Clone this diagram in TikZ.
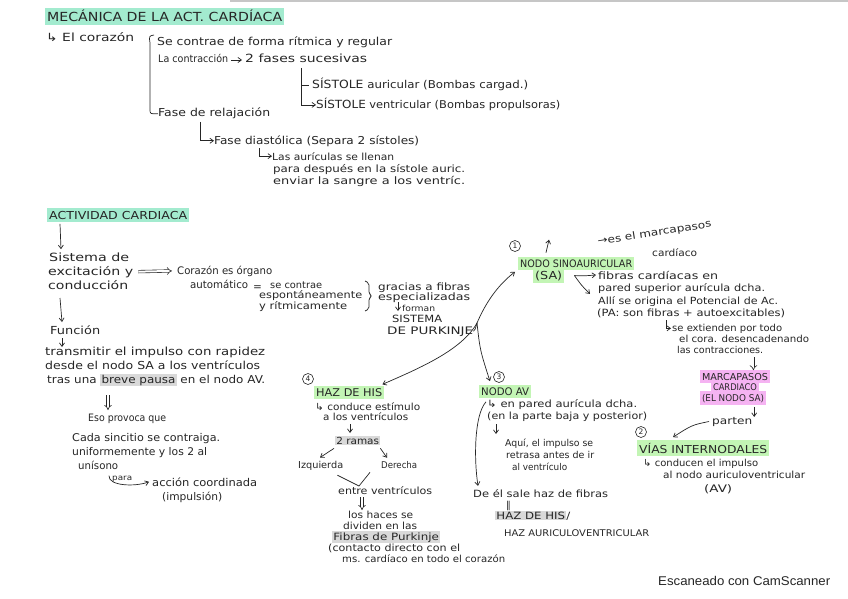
\documentclass[tikz,border=0pt]{standalone}
\usepackage{fontspec}
\usepackage{graphicx}
\usetikzlibrary{arrows.meta}
\newfontfamily\hwf{DejaVu Sans}
\newfontfamily\uif{Liberation Sans}
\definecolor{ink}{HTML}{262626}
\definecolor{mint}{HTML}{A3EBCF}
\definecolor{lgreen}{HTML}{C3F5B5}
\definecolor{lpink}{HTML}{F5B3F2}
\definecolor{hlgray}{HTML}{D9D9D9}
\newsavebox\fwbox
\newcommand{\fw}[2]{\sbox\fwbox{#2}\edef\fwr{\fpeval{#1/(\the\wd\fwbox)}}\edef\fwv{\fpeval{sqrt(sqrt(\fwr))}}\scalebox{\fwr}[\fwv]{\usebox\fwbox}}
\newcommand{\gbox}[1]{{\setlength{\fboxsep}{1pt}\colorbox{hlgray}{#1}}}
\begin{document}
\begin{tikzpicture}[x=1pt,y=-1pt,
 tx/.style={anchor=base west, inner sep=0pt, text=ink, font=\hwf\fontsize{10.5}{12}\selectfont},
 txs/.style={tx, font=\hwf\fontsize{9.5}{11}\selectfont},
 cp/.style={tx, font=\hwf\fontsize{10.5}{12}\selectfont},
 hl/.style={fill=#1, inner xsep=2pt, inner ysep=2.5pt},
 ln/.style={draw=ink, line width=0.7pt},
 ar/.style={ln, -{Straight Barb[length=3.5pt,width=5pt]}},
 dar/.style={draw=ink, line width=0.6pt, double, double distance=2pt, -{Implies}},
 num/.style={circle, draw=ink, line width=0.6pt, inner sep=0pt, minimum size=11pt, text=ink, font=\hwf\fontsize{7.5}{8}\selectfont},
]
\useasboundingbox (0,0) rectangle (848,599);
\fill[white] (0,0) rectangle (848,599);
\draw[gray!45, line width=2pt] (230,1.5) -- (848,1.5);

% ---------- MECANICA ----------
\node[cp, hl=mint, font=\hwf\fontsize{12}{14}\selectfont] (title) at (45,22) {\fw{235}{MECÁNICA DE LA ACT. CARDÍACA}};
\node[tx] (cor) at (46,42) {\fw{88}{↳ El corazón}};
\node[tx] (s1) at (157,46) {\fw{235}{Se contrae de forma rítmica y regular}};
\node[tx] (s2) at (158,63) {\fw{70}{La contracción}};
\node[tx] (s3) at (245,63) {\fw{122}{2 fases sucesivas}};
\draw[ar] ([shift={(3,-3)}]s2.base east) -- ([shift={(-3,-3)}]s3.base west);
\node[tx] (s4) at (312,89) {\fw{216}{{\fontsize{11}{12}\selectfont SÍSTOLE} auricular (Bombas cargad.)}};
\node[tx] (s5) at (316,109) {\fw{244}{{\fontsize{11}{12}\selectfont SÍSTOLE} ventricular (Bombas propulsoras)}};
\coordinate (fb) at (301,68);
\draw[ar] (fb) |- (s5.west);
\draw[ln] (fb |- s4.west) -- ([xshift=-3pt]s4.west);
\node[tx] (s6) at (158,117) {\fw{112}{Fase de relajación}};
\draw[ln] (154,35) .. controls (149,36) .. (150,43) -- (150,109) .. controls (150,114) .. (s6.west);
\node[tx] (s7) at (214,144) {\fw{205}{Fase diastólica (Separa 2 sístoles)}};
\draw[ar] ([shift={(42,5)}]s6.base west) |- (s7.west);
\node[txs] (s8) at (272,160) {\fw{122}{Las aurículas se llenan}};
\node[txs] (s9) at (273,172) {\fw{192}{para después en la sístole auric.}};
\node[txs] (s10) at (273,184) {\fw{192}{enviar la sangre a los ventríc.}};
\draw[ar] ([shift={(45,4)}]s7.base west) |- (s8.west);

% ---------- ACTIVIDAD CARDIACA ----------
\node[cp, hl=mint] (ac) at (47,219) {\fw{138}{ACTIVIDAD CARDIACA}};
\node[tx] (si1) at (49,261) {\fw{80}{Sistema de}};
\node[tx] (si2) at (48,275) {\fw{85}{excitación y}};
\node[tx] (si3) at (48,289) {\fw{80}{conducción}};
\draw[ar] ([shift={(13,2)}]ac.south west) -- ([shift={(12,-3)}]si1.north west);
\node[tx] (co1) at (177,274) {\fw{95}{Corazón es órgano}};
\node[tx] (co2) at (190,288) {\fw{58}{automático}};
\draw[dar] ([xshift=5pt]si2.east) -- ([xshift=-5pt]co1.west);
\node[tx] (eq) at (253,290) {=};
\node[txs] (sc1) at (270,288) {\fw{52}{se contrae}};
\node[txs] (sc2) at (259,298) {\fw{103}{espontáneamente}};
\node[txs] (sc3) at (259,309) {\fw{88}{y rítmicamente}};
\draw[ln, rounded corners=2pt] (365,281) -- (369,283) -- (369,294) -- (372,296) -- (369,298) -- (369,309) -- (365,311);
\node[txs] (gr1) at (378,290) {\fw{92}{gracias a fibras}};
\node[txs] (gr2) at (378,300) {\fw{92}{especializadas}};
\node[txs, font=\hwf\fontsize{8}{9}\selectfont] (fo) at (402,311) {\fw{33}{forman}};
\draw[ar] ([shift={(-4,-9)}]fo.base west) -- ([shift={(-4,0)}]fo.base west);
\node[cp, font=\hwf\fontsize{9.5}{11}\selectfont] (sp1) at (392,322) {\fw{50}{SISTEMA}};
\node[cp, font=\hwf\fontsize{9.5}{11}\selectfont] (sp2) at (387,334) {\fw{86}{DE PURKINJE}};

\node[tx] (fu) at (50,334) {\fw{50}{Función}};
\draw[ar] ([shift={(12,9)}]si3.base west) -- ([shift={(12,-12)}]fu.base west);
\coordinate (fud) at ([shift={(12,4)}]fu.base west);
\draw[ar] (fud) -- ++(0,9);
\node[tx] (tr1) at (45,355) {\fw{220}{transmitir el impulso con rapidez}};
\node[tx] (tr2) at (45,369) {\fw{215}{desde el nodo SA a los ventrículos}};
\node[tx] (tr3) at (47,383) {\fw{218}{tras una \gbox{breve pausa} en el nodo AV.}};
\node[tx] (ep) at (88,421) {\fw{78}{Eso provoca que}};
\coordinate (trd) at (108,395);
\coordinate (trd2) at (108,410);
\draw[dar] (trd) -- (trd2);
\node[tx] (cs1) at (72,441) {\fw{148}{Cada sincitio se contraiga.}};
\node[tx] (cs2) at (72,455) {\fw{135}{uniformemente y los 2 al}};
\node[tx] (cs3) at (78,469) {\fw{40}{unísono}};
\node[txs, font=\hwf\fontsize{7.5}{8}\selectfont] (pr) at (112,480) {\fw{20}{para}};
\node[tx] (ac1) at (152,486) {\fw{105}{acción coordinada}};
\node[tx] (ac2) at (162,500) {\fw{60}{(impulsión)}};
\draw[ar] ([shift={(-3,-3)}]pr.west) .. controls (108,486) and (135,487) .. ([xshift=-3pt]ac1.west);

% ---------- junction ----------
\coordinate (j) at (477,323);
\draw[ln] (sp2.east) .. controls (475,330) .. (j);

% ---------- NODO SA ----------
\node[num] (n1) at (515,246) {1};
\node[cp, hl=lgreen] (sa1) at (518,267) {\fw{112}{NODO SINOAURICULAR}};
\node[cp, hl=lgreen] (sa2) at (533,279) {\fw{27}{(SA)}};
\draw[ar] (j) .. controls (486,302) and (498,285) .. ([shift={(-3,2)}]sa1.south west);
\draw[ar] ([shift={(28,-4)}]sa1.north west) -- ++(3,-13);
\node[txs, rotate=9] (mp1) at (598,245) {\fw{115}{→es el marcapasos}};
\node[txs] (mp2) at (652,256) {\fw{45}{cardíaco}};
\coordinate (sa0) at ([xshift=10pt]sa2.east);
\node[txs] (fi1) at (598,279) {\fw{120}{fibras cardíacas en}};
\node[txs] (fi2) at (598,291) {\fw{167}{pared superior aurícula dcha.}};
\node[txs] (al1) at (598,304) {\fw{180}{Allí se origina el Potencial de Ac.}};
\node[txs] (al2) at (597,316) {\fw{188}{(PA: son fibras + autoexcitables)}};
\draw[ar] (sa0) .. controls (583,276) .. ([xshift=-2pt]fi1.west);
\draw[ar] (sa0) .. controls (582,286) .. ([shift={(-8,-2)}]al1.north west);
\node[txs] (ex1) at (672,331) {\fw{110}{se extienden por todo}};
\node[txs] (ex2) at (679,342) {\fw{130}{el cora. desencadenando}};
\node[txs] (ex3) at (677,353) {\fw{86}{las contracciones.}};
\draw[ar] ([shift={(69,4)}]al2.base west) |- ([xshift=-1pt]ex1.west);
\node[cp, hl=lpink, anchor=base, font=\hwf\fontsize{9.5}{11}\selectfont] (mc1) at (735,380) {\fw{66}{MARCAPASOS}};
\node[cp, hl=lpink, anchor=base, font=\hwf\fontsize{9.5}{11}\selectfont] (mc2) at (735,390) {\fw{44}{CARDIACO}};
\node[cp, hl=lpink, anchor=base, font=\hwf\fontsize{9.5}{11}\selectfont] (mc3) at (733,401) {\fw{62}{(EL NODO SA)}};
\coordinate (exd) at ([shift={(-10,4)}]ex3.south east);
\draw[dar] (exd) -- (exd |- mc1.north);
\coordinate (mcd) at ([shift={(-12,2)}]mc3.south east);
\draw[ar] (mcd) -- ++(0,10);
\node[txs] (pa) at (712,424) {\fw{40}{parten}};
\node[num] (n2) at (641,432) {2};
\node[cp, hl=lgreen] (vi) at (637,453) {\fw{128}{VÍAS INTERNODALES}};
\draw[ar] ([xshift=-3pt]pa.west) .. controls (692,425) .. ([shift={(36,-3)}]vi.north west);
\node[txs] (cd1) at (643,466) {\fw{115}{↳ conducen el impulso}};
\node[txs] (cd2) at (663,478) {\fw{142}{al nodo auriculoventricular}};
\node[txs] (cd3) at (704,492) {\fw{28}{(AV)}};

% ---------- NODO AV ----------
\node[num] (n3) at (499,377) {3};
\draw[ar] (j) .. controls (480,350) .. ([shift={(-5,0)}]n3.south west);
\node[cp, hl=lgreen] (av) at (479,395) {\fw{48}{NODO AV}};
\node[txs] (av1) at (487,407) {\fw{150}{↳ en pared aurícula dcha.}};
\node[txs] (av2) at (487,419) {\fw{160}{(en la parte baja y posterior)}};
\coordinate (avd) at ([shift={(9,5)}]av2.base west);
\draw[ar] (avd) -- ++(0,10);
\node[txs] (aq1) at (505,446) {\fw{88}{Aquí, el impulso se}};
\node[txs] (aq2) at (506,458) {\fw{88}{retrasa antes de ir}};
\node[txs] (aq3) at (512,470) {\fw{55}{al ventrículo}};
\node[txs] (de) at (473,497) {\fw{135}{De él sale haz de fibras}};
\draw[ar] ([shift={(7,4)}]av.south west) .. controls (474,415) and (474,460) .. ([shift={(5,-3)}]de.north west);
\node[txs] (par) at (506,508) {‖};
\node[cp, font=\hwf\fontsize{9.5}{11}\selectfont] (hh2) at (495,519) {\fw{75}{\gbox{HAZ DE HIS}/}};
\node[cp, font=\hwf\fontsize{9}{11}\selectfont] (hav) at (504,536) {\fw{145}{HAZ AURICULOVENTRICULAR}};

% ---------- HAZ DE HIS ----------
\node[num] (n4) at (308,379) {4};
\node[cp, hl=lgreen] (hh) at (314,396) {\fw{66}{HAZ DE HIS}};
\draw[ar] (j) .. controls (462,350) and (420,368) .. ([shift={(-2,-1)}]hh.north east);
\node[txs] (hc1) at (315,410) {\fw{105}{↳ conduce estímulo}};
\node[txs] (hc2) at (323,420) {\fw{85}{a los ventrículos}};
\coordinate (hcd) at ([shift={(27,4)}]hc2.base west);
\draw[ar] (hcd) -- ++(0,9);
\node[txs] (ra) at (335,444) {\fw{45}{\gbox{2 ramas}}};
\node[txs] (iz) at (298,468) {\fw{45}{Izquierda}};
\node[txs] (dr) at (381,468) {\fw{36}{Derecha}};
\draw[ar] ([shift={(-1,3)}]ra.south west) -- ([shift={(22,-3)}]iz.north west);
\draw[ar] ([shift={(0,3)}]ra.south east) -- ([shift={(6,-3)}]dr.north west);
\coordinate (vt) at (359,486);
\draw[ln] ([shift={(-6,5)}]iz.south east) -- (vt) -- ([shift={(-11,4)}]dr.south west);
\node[txs] (ev) at (338,494) {\fw{94}{entre ventrículos}};
\node[txs] (fp1) at (348,518) {\fw{65}{los haces se}};
\coordinate (evd) at (362,497);
\coordinate (evd2) at (362,510);
\draw[dar] (evd) -- (evd2);
\node[txs] (fp2) at (343,529) {\fw{74}{dividen en las}};
\node[txs] (fp3) at (332,540) {\fw{108}{\gbox{Fibras de Purkinje}}};
\node[txs] (fp4) at (328,551) {\fw{132}{(contacto directo con el}};
\node[txs] (fp5) at (342,562) {\fw{163}{ms. cardíaco en todo el corazón}};

% ---------- watermark ----------
\node[anchor=base west, inner sep=0pt, text=black!85, font=\uif\fontsize{12.5}{14}\selectfont] (cam) at (658,585) {\fw{172}{Escaneado con CamScanner}};
\end{tikzpicture}
\end{document}
